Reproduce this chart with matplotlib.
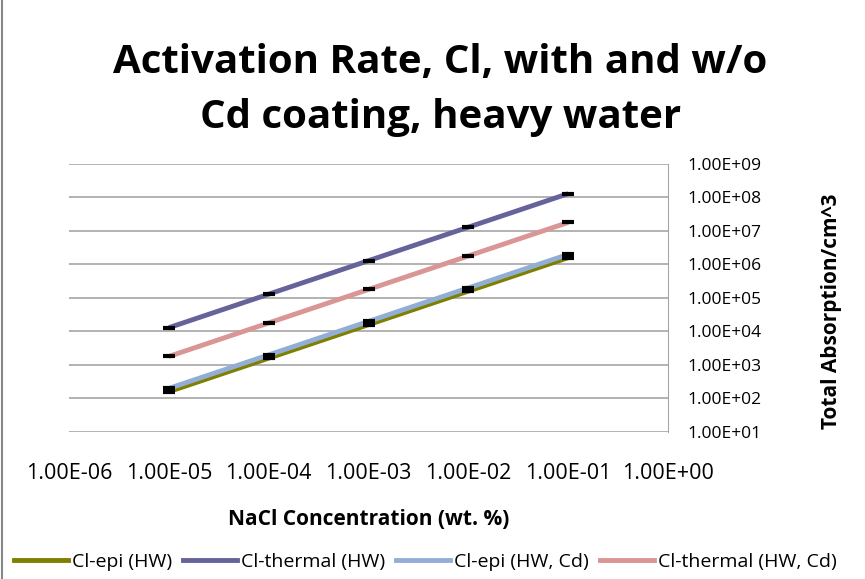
import matplotlib
matplotlib.use('Agg')
import matplotlib.pyplot as plt
from matplotlib.lines import Line2D

plt.rcParams['font.family'] = ['Open Sans', 'DejaVu Sans']

# NaCl concentration (wt. %)
conc = [1e-5, 1e-4, 1e-3, 1e-2, 1e-1]

# Total absorption / cm^3
cl_epi_hw = [1.6e2, 1.6e3, 1.6e4, 1.6e5, 1.6e6]
cl_thermal_hw = [1.3e4, 1.3e5, 1.3e6, 1.3e7, 1.3e8]
cl_epi_hw_cd = [2.0e2, 2.0e3, 2.0e4, 2.0e5, 2.0e6]
cl_thermal_hw_cd = [1.8e3, 1.8e4, 1.8e5, 1.8e6, 1.8e7]

series_names = ['Cl-epi (HW)', 'Cl-thermal (HW)', 'Cl-epi (HW, Cd)', 'Cl-thermal (HW, Cd)']
series_vals = [cl_epi_hw, cl_thermal_hw, cl_epi_hw_cd, cl_thermal_hw_cd]
colores = ['#7f7f00', '#64649a', '#93aed6', '#d99694']

x_ticks = [1e-6, 1e-5, 1e-4, 1e-3, 1e-2, 1e-1, 1e0]
y_ticks = [1e1, 1e2, 1e3, 1e4, 1e5, 1e6, 1e7, 1e8, 1e9]

fig = plt.figure(figsize=(8.65, 5.79), dpi=100)
ax = fig.add_axes([0.0798, 0.2539, 0.6925, 0.4629])

for nombre, vals, col in zip(series_names, series_vals, colores):
    ax.plot(conc, vals, color=col, lw=3.5, label=nombre, solid_capstyle='butt', zorder=3)
    ax.plot(conc, vals, ls='none', marker='_', ms=8, mew=3, color='black', zorder=4)

ax.set_xscale('log')
ax.set_yscale('log')
ax.set_xlim(1e-6, 1e0)
ax.set_ylim(1e1, 1e9)
ax.set_xticks(x_ticks)
ax.set_xticklabels(['%.2E' % v for v in x_ticks], fontsize=15.5)
ax.set_yticks(y_ticks)
ax.set_yticklabels(['%.2E' % v for v in y_ticks], fontsize=12.5)
ax.minorticks_off()
ax.yaxis.tick_right()
ax.tick_params(axis='y', length=0, pad=14)
ax.tick_params(axis='x', length=0, pad=22)

ax.grid(axis='y', color='#a6a6a6', lw=1.2)
for s in ['top', 'left', 'bottom']:
    ax.spines[s].set_visible(False)
ax.spines['right'].set_color('#a6a6a6')

ax.set_xlabel('NaCl Concentration (wt. %)', fontsize=15, fontweight='bold', labelpad=18)
fig.text(832 / 865, 1 - 311 / 579, 'Total Absorption/cm^3', rotation=90,
         ha='center', va='center', fontsize=15, fontweight='bold')

fig.text(0.509, 0.845, 'Activation Rate, Cl, with and w/o\nCd coating, heavy water',
         ha='center', va='center', fontsize=29, fontweight='bold', linespacing=1.52)

handles = [Line2D([0], [0], color=c, lw=3.5) for c in colores]
fig.legend(handles, series_names, loc='center left', bbox_to_anchor=(0.0, 0.03),
           ncol=4, frameon=False, fontsize=14, handlelength=2.8, handletextpad=0.2,
           columnspacing=0.55, borderaxespad=0.3)

# borde izquierdo del cuadro del grafico
fig.add_artist(Line2D([0.002, 0.002], [0.0, 1.0], color='#888888', lw=1.5))

fig.savefig('out.png', dpi=100)
